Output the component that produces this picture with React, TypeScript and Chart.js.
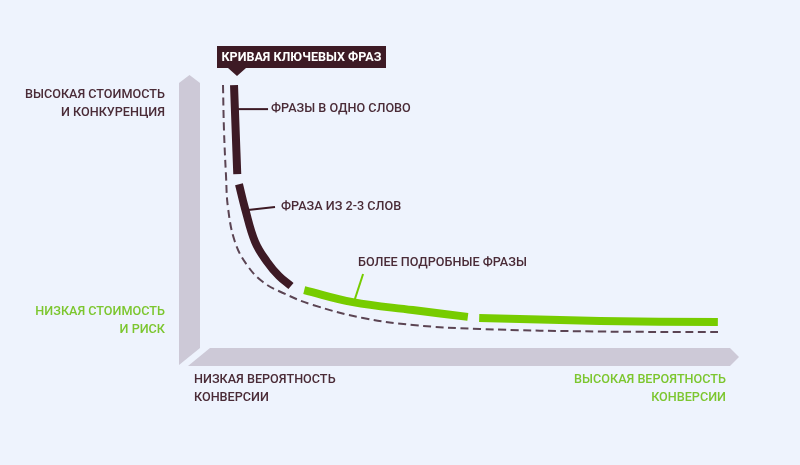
import React, { useEffect, useRef } from "react";
import { Chart, registerables } from "chart.js";

Chart.register(...registerables);

// Keyword curve: x = conversion probability (0..100), y = cost & competition (0..100)
const curveX = [4.26, 4.44, 4.81, 5.19, 6.48, 8.7, 11.67, 15.37, 20.93, 30.19, 39.44, 51.85, 74.07, 95.93];
const curveY = [96.34, 79.85, 63.37, 51.28, 38.83, 30.4, 24.18, 20.15, 15.75, 10.99, 8.42, 6.96, 6.04, 5.86];

const oneWordX = [6.3, 6.6, 6.9];
const oneWordY = [96.3, 79.9, 63.7];

const twoThreeX = [7.22, 8.33, 10.19, 12.41, 14.63, 16.85];
const twoThreeY = [59.96, 51.17, 38.94, 31.61, 26.37, 22.71];

const longTailAX = [19.3, 28.3, 39.4, 49.6];
const longTailAY = [21.2, 16.8, 13.9, 11.4];

const longTailBX = [51.7, 74.1, 95.9];
const longTailBY = [11.0, 9.9, 9.5];

const titleText = "КРИВАЯ КЛЮЧЕВЫХ ФРАЗ";
const segmentLabels = ["ФРАЗЫ В ОДНО СЛОВО", "ФРАЗА ИЗ 2-3 СЛОВ", "БОЛЕЕ ПОДРОБНЫЕ ФРАЗЫ"];
const yHighLabel = ["ВЫСОКАЯ СТОИМОСТЬ", "И КОНКУРЕНЦИЯ"];
const yLowLabel = ["НИЗКАЯ СТОИМОСТЬ", "И РИСК"];
const xLowLabel = ["НИЗКАЯ ВЕРОЯТНОСТЬ", "КОНВЕРСИИ"];
const xHighLabel = ["ВЫСОКАЯ ВЕРОЯТНОСТЬ", "КОНВЕРСИИ"];

const BG = "#eef3fd";
const DARK = "#3d1a25";
const DARK_TEXT = "#4a2b37";
const GREEN = "#77cc00";
const GREEN_TEXT = "#7cc62f";
const BAR = "#cdc9d7";
const DASH = "#5b4453";
const FONT = 'Roboto, "DejaVu Sans", sans-serif';

const zip = (xs: number[], ys: number[]) => xs.map((x, i) => ({ x, y: ys[i] }));

// draw text horizontally condensed by factor s
function drawText(ctx: any, text: string, x: number, y: number, s: number, align: "left" | "right" | "center") {
  const w = ctx.measureText(text).width * s;
  let x0 = x;
  if (align === "right") x0 = x - w;
  if (align === "center") x0 = x - w / 2;
  ctx.save();
  ctx.translate(x0, y);
  ctx.scale(s, 1);
  ctx.textAlign = "left";
  ctx.fillText(text, 0, 0);
  ctx.restore();
}

const decorPlugin = {
  id: "decor",
  beforeDraw(chart: any) {
    const { ctx, width, height } = chart;
    ctx.save();
    ctx.fillStyle = BG;
    ctx.fillRect(0, 0, width, height);
    ctx.restore();
  },
  beforeDatasetsDraw(chart: any) {
    const { ctx, chartArea } = chart;
    const { left, right, top, bottom } = chartArea;
    ctx.save();
    ctx.fillStyle = BAR;
    // vertical axis bar
    ctx.beginPath();
    ctx.moveTo(left - 21, top + 8);
    ctx.lineTo(left - 10.5, top);
    ctx.lineTo(left, top + 8);
    ctx.lineTo(left, bottom);
    ctx.lineTo(left - 21, bottom + 17);
    ctx.closePath();
    ctx.fill();
    // horizontal axis bar
    ctx.beginPath();
    ctx.moveTo(left + 10, bottom);
    ctx.lineTo(right - 10, bottom);
    ctx.lineTo(right - 1, bottom + 9);
    ctx.lineTo(right - 10, bottom + 18);
    ctx.lineTo(left - 12, bottom + 18);
    ctx.closePath();
    ctx.fill();
    ctx.restore();
  },
  afterDatasetsDraw(chart: any) {
    const { ctx, chartArea, scales } = chart;
    const { left, right, top, bottom } = chartArea;
    const X = (v: number) => scales.x.getPixelForValue(v);
    const Y = (v: number) => scales.y.getPixelForValue(v);
    ctx.save();
    ctx.textBaseline = "middle";
    ctx.font = `500 13px ${FONT}`;
    const s = 140 / ctx.measureText(yHighLabel[0]).width;

    // callouts
    const callouts = [
      { from: [7.0, 87.5], to: [12.6, 87.5], text: segmentLabels[0], color: DARK, tx: 3, ty: 0 },
      { from: [8.89, 50.55], to: [13.89, 51.65], text: segmentLabels[1], color: DARK, tx: 6, ty: 0 },
      { from: [28.5, 16.8], to: [30.2, 27.1], text: segmentLabels[2], color: GREEN, tx: -5, ty: -11 },
    ];
    callouts.forEach((c) => {
      ctx.strokeStyle = c.color;
      ctx.lineWidth = 2;
      ctx.beginPath();
      ctx.moveTo(X(c.from[0]), Y(c.from[1]));
      ctx.lineTo(X(c.to[0]), Y(c.to[1]));
      ctx.stroke();
      ctx.fillStyle = DARK_TEXT;
      drawText(ctx, c.text, X(c.to[0]) + c.tx, Y(c.to[1]) + c.ty, s, "left");
    });

    // axis labels
    ctx.fillStyle = DARK_TEXT;
    yHighLabel.forEach((t, i) => drawText(ctx, t, left - 35, top + 20 + i * 18, s, "right"));
    ctx.fillStyle = GREEN_TEXT;
    yLowLabel.forEach((t, i) => drawText(ctx, t, left - 35, bottom - 36 + i * 18, s, "right"));
    ctx.fillStyle = DARK_TEXT;
    xLowLabel.forEach((t, i) => drawText(ctx, t, left - 6, bottom + 32 + i * 18, s, "left"));
    ctx.fillStyle = GREEN_TEXT;
    xHighLabel.forEach((t, i) => drawText(ctx, t, right - 14, bottom + 32 + i * 18, s, "right"));

    // title box
    const bx = left + 17, by = top - 29, bw = 169, bh = 22;
    ctx.fillStyle = DARK;
    ctx.fillRect(bx, by, bw, bh);
    ctx.beginPath();
    ctx.moveTo(bx + 11, by + bh);
    ctx.lineTo(bx + 29, by + bh);
    ctx.lineTo(bx + 20, by + bh + 8);
    ctx.closePath();
    ctx.fill();
    ctx.fillStyle = "#ffffff";
    ctx.font = `bold 13px ${FONT}`;
    const st = 160 / ctx.measureText(titleText).width;
    drawText(ctx, titleText, bx + bw / 2, by + bh / 2 + 1, st, "center");
    ctx.restore();
  },
};

export default function App() {
  const ref = useRef<HTMLCanvasElement>(null);
  useEffect(() => {
    document.body.style.margin = "0";
    document.body.style.background = BG;
    const seg = (data: any[], color: string) => ({
      data,
      showLine: true,
      borderColor: color,
      borderWidth: 8,
      borderCapStyle: "butt",
      pointRadius: 0,
      tension: 0.4,
    });
    const chart = new Chart(ref.current as HTMLCanvasElement, {
      type: "scatter",
      data: {
        datasets: [
          {
            data: zip(curveX, curveY),
            showLine: true,
            borderColor: DASH,
            borderWidth: 2,
            borderDash: [8, 4.5],
            pointRadius: 0,
            tension: 0.4,
          },
          seg(zip(oneWordX, oneWordY), DARK),
          seg(zip(twoThreeX, twoThreeY), DARK),
          seg(zip(longTailAX, longTailAY), GREEN),
          seg(zip(longTailBX, longTailBY), GREEN),
        ] as any,
      },
      options: {
        animation: false,
        responsive: false,
        devicePixelRatio: 1,
        layout: { padding: { left: 200, right: 60, top: 75, bottom: 117 } },
        scales: {
          x: { type: "linear", min: 0, max: 100, display: false },
          y: { type: "linear", min: 0, max: 100, display: false },
        },
        plugins: { legend: { display: false }, tooltip: { enabled: false } },
      },
      plugins: [decorPlugin],
    });
    return () => chart.destroy();
  }, []);
  return (
    <div style={{ position: "absolute", left: 0, top: 0, width: 800, height: 465, background: BG }}>
      <canvas ref={ref} width={800} height={465} />
    </div>
  );
}
